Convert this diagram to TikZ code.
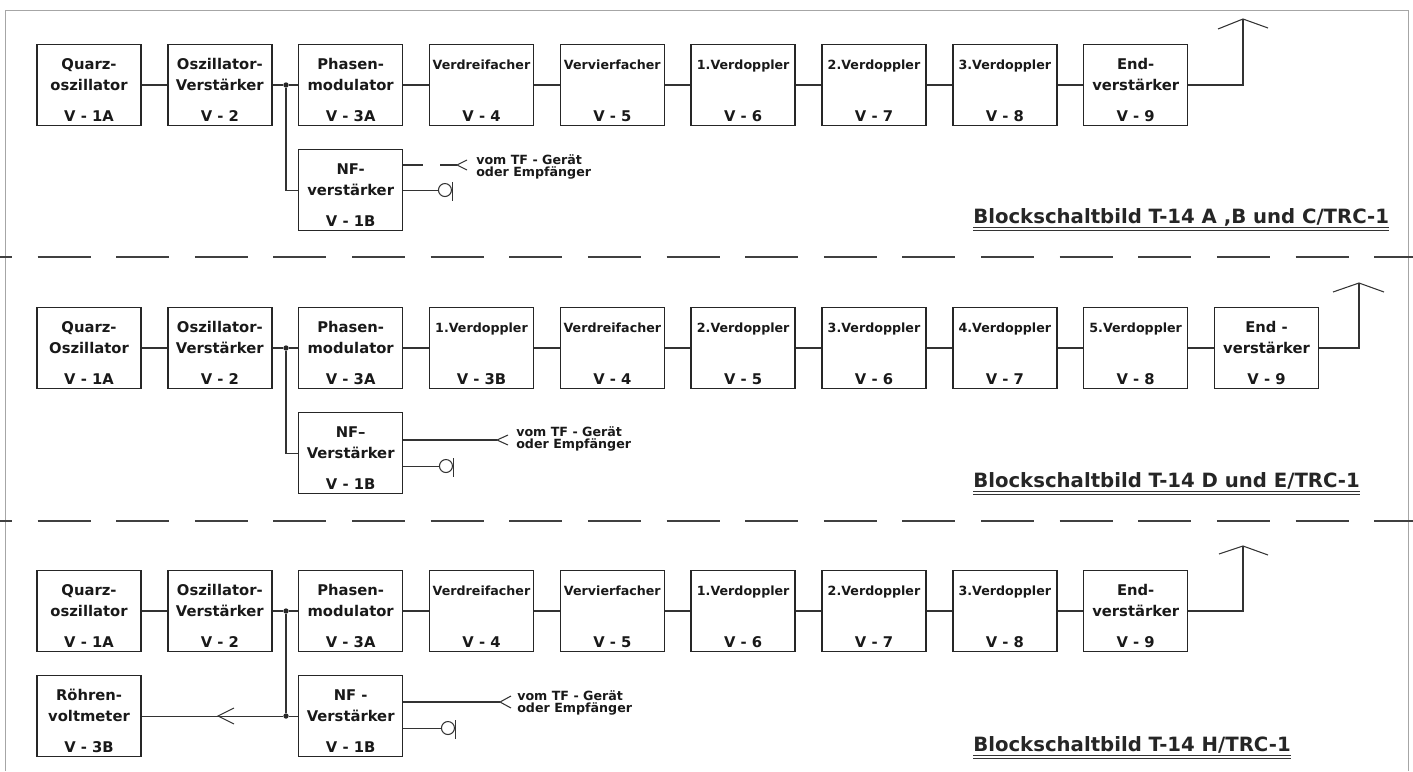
\documentclass[tikz,border=0pt]{standalone}
\usepackage{fontspec}
\setmainfont{DejaVu Sans}
\newfontfamily\blockfont{DejaVu Sans}
\usetikzlibrary{positioning}
\newcommand{\klein}{\fontsize{9}{14.9}\selectfont}
\newcommand{\blk}[3]{\rule{0pt}{15pt}#1\\#2\\[7pt]#3}
\tikzstyle{block} = [rectangle, draw=black!85, line width=1.1pt, minimum width=2.6cm, minimum height=2.025cm, align=center, text=black!90, inner sep=1pt, font=\blockfont\bfseries\fontsize{10.5}{14.9}\selectfont]
\tikzstyle{dot} = [circle, fill=black!85, inner sep=0pt, minimum size=3.8pt]
\tikzstyle{line} = [draw=black!80, line width=0.75pt]
\tikzstyle{note} = [anchor=west, align=left, inner sep=0pt, text=black!90, font=\blockfont\bfseries\fontsize{9}{8.8}\selectfont]
\tikzstyle{blocktitle} = [anchor=base west, inner sep=0pt, text=black!85, font=\bfseries\fontsize{14}{18}\selectfont]
\tikzstyle{sep} = [draw=black!75, line width=1.3pt, dash pattern=on 1.325cm off 0.64cm]

\begin{document}
\begin{tikzpicture}[x=0.025cm, y=-0.025cm, node distance=3.27cm]
            \useasboundingbox (0,0) rectangle (1413,771);
            \draw [black!35, line width=0.5pt] (5,771) -- (5,10) -- (1408,10) -- (1408,771);

            % Nodes of block diagrams
            % T-14 A, B und C
            \node (qA) [block] at (89,85) {\blk{Quarz-}{oszillator}{V - 1A}};
            \node (oA) [block, right of=qA] {\blk{Oszillator-}{Verstärker}{V - 2}};
            \node (pA) [block, right of=oA] {\blk{Phasen-}{modulator}{V - 3A}};
            \node (d3A) [block, right of=pA] {\blk{\klein Verdreifacher}{\mbox{}}{V - 4}};
            \node (v4A) [block, right of=d3A] {\blk{\klein Vervierfacher}{\mbox{}}{V - 5}};
            \node (dop1A) [block, right of=v4A] {\blk{\klein 1.Verdoppler}{\mbox{}}{V - 6}};
            \node (dop2A) [block, right of=dop1A] {\blk{\klein 2.Verdoppler}{\mbox{}}{V - 7}};
            \node (dop3A) [block, right of=dop2A] {\blk{\klein 3.Verdoppler}{\mbox{}}{V - 8}};
            \node (eA) [block, right of=dop3A] {\blk{End-}{verstärker}{V - 9}};
            \node (nfA) [block, below of=pA, yshift=0.645cm] {\blk{NF-}{verstärker}{V - 1B}};
            \node (jA) [dot] at (286,85) {};
            \coordinate (inA) at (457,165);
            \coordinate (antA) at (1243,19);
            \node (vomA) [note] at (476,167) {vom TF - Gerät\\oder Empfänger};
            \node (tA) [blocktitle] at (973,223) {Blockschaltbild T-14 A ,B und C/TRC-1};

            % T-14 D und E
            \node (qB) [block] at (89,348) {\blk{Quarz-}{Oszillator}{V - 1A}};
            \node (oB) [block, right of=qB] {\blk{Oszillator-}{Verstärker}{V - 2}};
            \node (pB) [block, right of=oB] {\blk{Phasen-}{modulator}{V - 3A}};
            \node (dop1B) [block, right of=pB] {\blk{\klein 1.Verdoppler}{\mbox{}}{V - 3B}};
            \node (d3B) [block, right of=dop1B] {\blk{\klein Verdreifacher}{\mbox{}}{V - 4}};
            \node (dop2B) [block, right of=d3B] {\blk{\klein 2.Verdoppler}{\mbox{}}{V - 5}};
            \node (dop3B) [block, right of=dop2B] {\blk{\klein 3.Verdoppler}{\mbox{}}{V - 6}};
            \node (dop4B) [block, right of=dop3B] {\blk{\klein 4.Verdoppler}{\mbox{}}{V - 7}};
            \node (dop5B) [block, right of=dop4B] {\blk{\klein 5.Verdoppler}{\mbox{}}{V - 8}};
            \node (eB) [block, right of=dop5B] {\blk{End -}{verstärker}{V - 9}};
            \node (nfB) [block, below of=pB, yshift=0.645cm] {\blk{NF–}{Verstärker}{V - 1B}};
            \node (jB) [dot] at (286,348) {};
            \coordinate (inB) at (497,440);
            \coordinate (antB) at (1359,283);
            \node (vomB) [note] at (516,439) {vom TF - Gerät\\oder Empfänger};
            \node (tB) [blocktitle] at (973,487) {Blockschaltbild T-14 D und E/TRC-1};

            % T-14 H
            \node (qC) [block] at (89,611) {\blk{Quarz-}{oszillator}{V - 1A}};
            \node (oC) [block, right of=qC] {\blk{Oszillator-}{Verstärker}{V - 2}};
            \node (pC) [block, right of=oC] {\blk{Phasen-}{modulator}{V - 3A}};
            \node (d3C) [block, right of=pC] {\blk{\klein Verdreifacher}{\mbox{}}{V - 4}};
            \node (v4C) [block, right of=d3C] {\blk{\klein Vervierfacher}{\mbox{}}{V - 5}};
            \node (dop1C) [block, right of=v4C] {\blk{\klein 1.Verdoppler}{\mbox{}}{V - 6}};
            \node (dop2C) [block, right of=dop1C] {\blk{\klein 2.Verdoppler}{\mbox{}}{V - 7}};
            \node (dop3C) [block, right of=dop2C] {\blk{\klein 3.Verdoppler}{\mbox{}}{V - 8}};
            \node (eC) [block, right of=dop3C] {\blk{End-}{verstärker}{V - 9}};
            \node (nfC) [block, below of=pC, yshift=0.645cm] {\blk{NF -}{Verstärker}{V - 1B}};
            \node (rC) [block, below of=qC, yshift=0.645cm] {\blk{Röhren-}{voltmeter}{V - 3B}};
            \node (jC) [dot] at (286,611) {};
            \node (kC) [dot] at (jC |- nfC) {};
            \coordinate (pfC) at (218,716);
            \coordinate (inC) at (500,702);
            \coordinate (antC) at (1243,546);
            \node (vomC) [note] at (517,703) {vom TF - Gerät\\oder Empfänger};
            \node (tC) [blocktitle] at (973,751) {Blockschaltbild T-14 H/TRC-1};

            % Draw lines
            % Main lines
            \foreach \a/\b in {qA/oA, pA/d3A, d3A/v4A, v4A/dop1A, dop1A/dop2A, dop2A/dop3A, dop3A/eA,
                               qB/oB, pB/dop1B, dop1B/d3B, d3B/dop2B, dop2B/dop3B, dop3B/dop4B, dop4B/dop5B, dop5B/eB,
                               qC/oC, pC/d3C, d3C/v4C, v4C/dop1C, dop1C/dop2C, dop2C/dop3C, dop3C/eC}
                \path [line] (\a) -- (\b);
            \path [line] (oA) -- (jA) -- (pA);
            \path [line] (oB) -- (jB) -- (pB);
            \path [line] (oC) -- (jC) -- (pC);

            % Antennas
            \path [line] (eA) -| (antA);
            \path [line] ([shift={(-25,10)}]antA) -- (antA) -- ([shift={(25,9)}]antA);
            \path [line] (eB) -| (antB);
            \path [line] ([shift={(-26,9)}]antB) -- (antB) -- ([shift={(25,9)}]antB);
            \path [line] (eC) -| (antC);
            \path [line] ([shift={(-24,8)}]antC) -- (antC) -- ([shift={(25,9)}]antC);

            % NF branches
            \path [line] (jA) |- (nfA);
            \path [line] (jB) |- (nfB);
            \path [line] (jC) -- (kC) -- (nfC);
            \path [line] (kC) -- (rC);
            \path [line] ([shift={(16,-8)}]pfC) -- (pfC) -- ([shift={(16,8)}]pfC);

            % Inputs vom TF-Geraet
            \path [line, dash pattern=on 0.5cm off 0.425cm] (nfA.east |- inA) -- (inA);
            \path [line] ([shift={(10,-5)}]inA) -- (inA) -- ([shift={(10,5)}]inA);
            \path [line] (nfB.east |- inB) -- (inB);
            \path [line] ([shift={(11,-5)}]inB) -- (inB) -- ([shift={(11,5)}]inB);
            \path [line] (nfC.east |- inC) -- (inC);
            \path [line] ([shift={(11,-6)}]inC) -- (inC) -- ([shift={(11,6)}]inC);

            % Hoerer
            \path [line] (nfA.east) -- ++(35,0) coordinate (hA);
            \path [line] (hA) ++(6.5,0) circle [radius=0.1625cm];
            \path [line] ([shift={(14,-8)}]hA) -- ([shift={(14,11)}]hA);
            \path [line] ([shift={(0,13)}]nfB.east) -- ++(36,0) coordinate (hB);
            \path [line] (hB) ++(6.5,0) circle [radius=0.1625cm];
            \path [line] ([shift={(14,-8)}]hB) -- ([shift={(14,11)}]hB);
            \path [line] ([shift={(0,12)}]nfC.east) -- ++(38,0) coordinate (hC);
            \path [line] (hC) ++(6.5,0) circle [radius=0.1625cm];
            \path [line] ([shift={(14,-8)}]hC) -- ([shift={(14,11)}]hC);

            % Titles and separators
            \foreach \t in {tA, tB, tC} {
                \path [line, line width=1pt] ([yshift=-3pt]\t.base west) -- ([yshift=-3pt]\t.base east);
                \path [line, line width=0.6pt] ([yshift=-5.3pt]\t.base west) -- ([yshift=-5.3pt]\t.base east);
            }
            \path [sep] (-41,257) -- (1413,257);
            \path [sep] (-41,521) -- (1413,521);
        \end{tikzpicture}
\end{document}
